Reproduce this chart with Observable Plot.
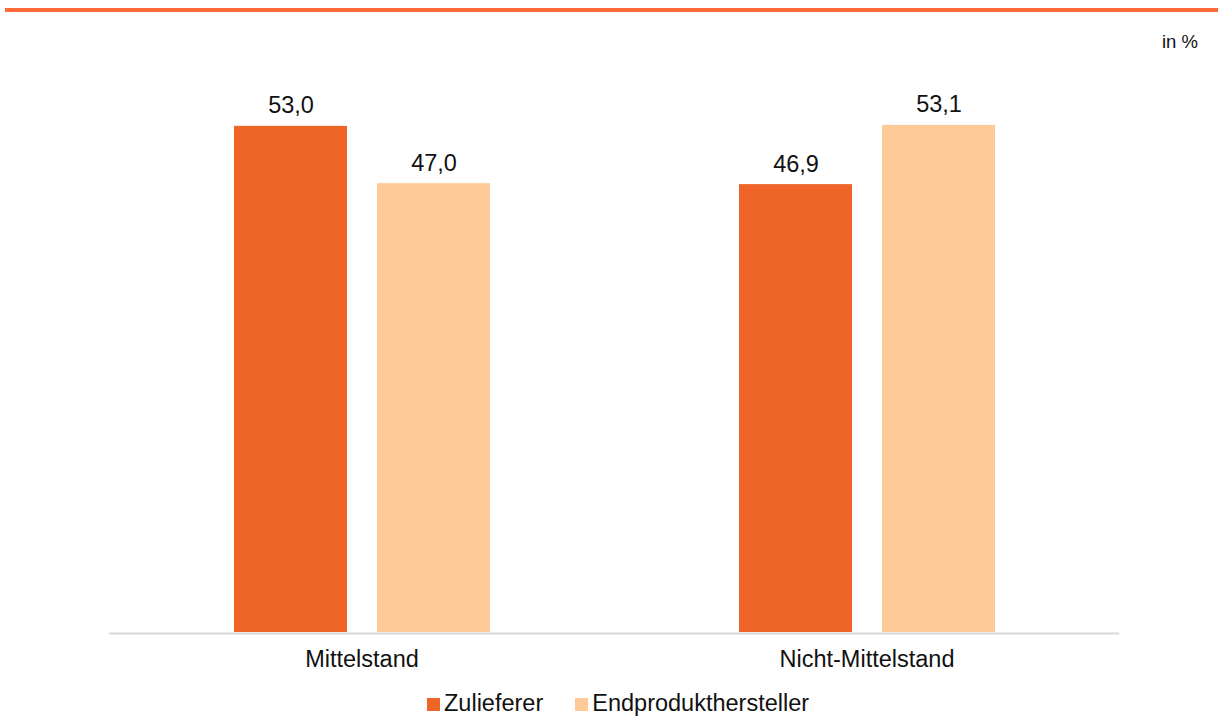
<!DOCTYPE html>
<html>
<head>
<meta charset="utf-8">
<script src="https://cdn.jsdelivr.net/npm/d3@7"></script>
<script src="https://cdn.jsdelivr.net/npm/@observablehq/plot@0.6"></script>
<style>
  html, body { margin: 0; padding: 0; background: #fff; }
  body { width: 1218px; height: 716px; position: relative; overflow: hidden; font-family: "Liberation Sans", Arial, sans-serif; }
  #topline { position: absolute; left: 5px; top: 8px; width: 1213px; height: 4px; background: #FF6A3A; }
  #unit { position: absolute; right: 20px; top: 31px; font-size: 18.5px; color: #111; }
  #chart { position: absolute; left: 0; top: 0; }
  #legend { position: absolute; left: 427px; top: 690px; display: flex; align-items: baseline; font-size: 23.5px; color: #111; }
  .item { display: flex; align-items: baseline; margin-right: 32px; }
  .sw { display: inline-block; width: 13px; height: 13px; margin-right: 4px; }
</style>
</head>
<body>
<div id="topline"></div>
<div id="unit">in %</div>
<div id="chart"></div>
<div id="legend"></div>
<script>
const groups = ["Mittelstand", "Nicht-Mittelstand"];
const series = ["Zulieferer", "Endprodukthersteller"];
const zulieferer = [53.0, 46.9];
const endprodukt = [47.0, 53.1];
const colors = ["#EF6527", "#FECB98"];

const data = [];
groups.forEach((g, i) => {
  data.push({group: g, series: series[0], value: zulieferer[i]});
  data.push({group: g, series: series[1], value: endprodukt[i]});
});
const fmt = v => v.toFixed(1).replace(".", ",");

const chart = Plot.plot({
  width: 1218,
  height: 680,
  marginTop: 59,
  marginBottom: 48,
  marginLeft: 109,
  marginRight: 99,
  style: {fontFamily: "'Liberation Sans', Arial, sans-serif", background: "transparent", color: "#111"},
  fx: {domain: groups, padding: 0, label: null},
  x: {domain: series, paddingInner: 0.21, paddingOuter: 0.87, axis: null},
  y: {domain: [0, 60], axis: null},
  color: {domain: series, range: colors},
  marks: [
    Plot.barY(data, {fx: "group", x: "series", y: "value", fill: "series"}),
    Plot.ruleY([0], {stroke: "#d9d9d9", strokeWidth: 2, dy: 1}),
    Plot.text(data, {fx: "group", x: "series", y: "value", text: d => fmt(d.value), lineAnchor: "bottom", dy: -13, fontSize: 23.5, fill: "#111"}),
    Plot.axisFx({anchor: "bottom", tickSize: 0, tickPadding: 18, fontSize: 23.5, label: null})
  ]
});
document.getElementById("chart").appendChild(chart);

const legend = document.getElementById("legend");
series.forEach((s, i) => {
  const it = document.createElement("div");
  it.className = "item";
  const sw = document.createElement("span");
  sw.className = "sw";
  sw.style.background = colors[i];
  const t = document.createElement("span");
  t.textContent = s;
  it.appendChild(sw);
  it.appendChild(t);
  legend.appendChild(it);
});
</script>
</body>
</html>
